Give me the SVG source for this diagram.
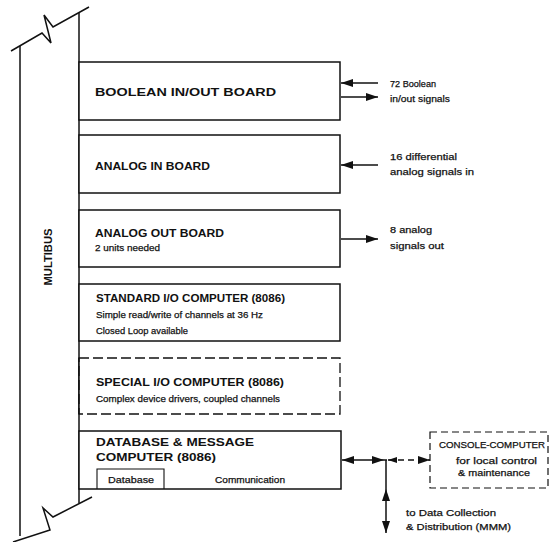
<svg xmlns="http://www.w3.org/2000/svg" width="554" height="542" viewBox="0 0 554 542">
<style>
.ln{fill:none;stroke:#111;stroke-width:1.5}
.box{fill:#fff;stroke:#111;stroke-width:1.5}
.dash{fill:#fff;stroke:#111;stroke-width:1.3;stroke-dasharray:10 4}
.dash2{fill:#fff;stroke:#111;stroke-width:1.2;stroke-dasharray:7 4}
.t{font-family:"Liberation Sans",Arial,sans-serif;font-weight:bold;font-size:11.5px;fill:#111}
.s{font-family:"Liberation Sans",Arial,sans-serif;font-size:9.5px;fill:#111;stroke:#111;stroke-width:0.25}
.ah{fill:#111;stroke:none}
</style>
<defs>
<marker id="arr" viewBox="0 0 12 8" refX="12" refY="4" markerWidth="12" markerHeight="8" markerUnits="userSpaceOnUse" orient="auto-start-reverse"><path d="M0,0 L12,4 L0,8 Z" class="ah"/></marker>
<marker id="arrs" viewBox="0 0 9 6" refX="9" refY="3" markerWidth="9" markerHeight="6" markerUnits="userSpaceOnUse" orient="auto-start-reverse"><path d="M0,0 L9,3 L0,6 Z" class="ah"/></marker>
</defs>

<g id="multibus">
<polyline class="ln" points="11,51 42,33 51,43 44,15 53,27 89,7"/>
<polyline class="ln" points="92,497 53,517 43,508 50,530 13,542"/>
<line class="ln" x1="20" y1="46" x2="20" y2="536"/>
<line class="ln" x1="79" y1="13" x2="79" y2="503"/>
<text class="t" transform="translate(52,257) rotate(-90)" text-anchor="middle" textLength="57" lengthAdjust="spacingAndGlyphs">MULTIBUS</text>
</g>

<g id="boolean">
<rect class="box" x="79" y="62" width="261" height="58"/>
<text class="t" x="95" y="96" textLength="181" lengthAdjust="spacingAndGlyphs">BOOLEAN IN/OUT BOARD</text>
</g>

<g id="analog-in">
<rect class="box" x="79" y="135" width="261" height="58"/>
<text class="t" x="95" y="170" textLength="115" lengthAdjust="spacingAndGlyphs">ANALOG IN BOARD</text>
</g>

<g id="analog-out">
<rect class="box" x="79" y="210" width="261" height="57"/>
<text class="t" x="95" y="237" textLength="129" lengthAdjust="spacingAndGlyphs">ANALOG OUT BOARD</text>
<text class="s" x="95" y="251" textLength="65" lengthAdjust="spacingAndGlyphs">2 units needed</text>
</g>

<g id="standard-io">
<rect class="box" x="79" y="284" width="261" height="57"/>
<text class="t" x="96" y="302" textLength="189" lengthAdjust="spacingAndGlyphs">STANDARD I/O COMPUTER (8086)</text>
<text class="s" x="96" y="318" textLength="167" lengthAdjust="spacingAndGlyphs">Simple read/write of channels at 36 Hz</text>
<text class="s" x="96" y="334" textLength="92" lengthAdjust="spacingAndGlyphs">Closed Loop available</text>
</g>

<g id="special-io">
<rect class="dash" x="79" y="358" width="261" height="56"/>
<line class="ln" x1="79" y1="358" x2="79" y2="414"/>
<text class="t" x="96" y="386" textLength="188" lengthAdjust="spacingAndGlyphs">SPECIAL I/O COMPUTER (8086)</text>
<text class="s" x="96" y="402" textLength="184" lengthAdjust="spacingAndGlyphs">Complex device drivers, coupled channels</text>
</g>

<g id="database-message">
<rect class="box" x="79" y="431" width="262" height="58"/>
<text class="t" x="96" y="446" textLength="158" lengthAdjust="spacingAndGlyphs">DATABASE &amp; MESSAGE</text>
<text class="t" x="96" y="461" textLength="120" lengthAdjust="spacingAndGlyphs">COMPUTER (8086)</text>
<polyline class="ln" style="stroke-width:1.1" points="97,489 97,469 164,469 164,489"/>
<text class="s" x="108" y="483" textLength="46" lengthAdjust="spacingAndGlyphs">Database</text>
<text class="s" x="215" y="483" textLength="70" lengthAdjust="spacingAndGlyphs">Communication</text>
</g>

<g id="console-computer">
<rect class="dash2" x="430" y="432" width="118" height="56"/>
<text class="s" x="439" y="448" textLength="106" lengthAdjust="spacingAndGlyphs">CONSOLE-COMPUTER</text>
<text class="s" x="456" y="464" textLength="81" lengthAdjust="spacingAndGlyphs">for local control</text>
<text class="s" x="458" y="476" textLength="72" lengthAdjust="spacingAndGlyphs">&amp; maintenance</text>
</g>

<g id="signals">
<text class="s" x="390" y="87" textLength="46" lengthAdjust="spacingAndGlyphs">72 Boolean</text>
<text class="s" x="390" y="102" textLength="60" lengthAdjust="spacingAndGlyphs">in/out signals</text>
<text class="s" x="390" y="160" textLength="67" lengthAdjust="spacingAndGlyphs">16 differential</text>
<text class="s" x="390" y="175" textLength="84" lengthAdjust="spacingAndGlyphs">analog signals in</text>
<text class="s" x="390" y="233" textLength="42" lengthAdjust="spacingAndGlyphs">8 analog</text>
<text class="s" x="390" y="249" textLength="54" lengthAdjust="spacingAndGlyphs">signals out</text>
<text class="s" x="406" y="516" textLength="90" lengthAdjust="spacingAndGlyphs">to Data Collection</text>
<text class="s" x="406" y="530" textLength="105" lengthAdjust="spacingAndGlyphs">&amp; Distribution (MMM)</text>
</g>

<g id="connectors">
<line class="ln" x1="378" y1="83" x2="341" y2="83" marker-end="url(#arr)"/>
<line class="ln" x1="341" y1="97" x2="378" y2="97" marker-end="url(#arr)"/>
<line class="ln" x1="378" y1="165" x2="341" y2="165" marker-end="url(#arr)"/>
<line class="ln" x1="341" y1="239" x2="378" y2="239" marker-end="url(#arr)"/>
<line class="ln" x1="342" y1="460" x2="384" y2="460" marker-start="url(#arr)" marker-end="url(#arr)"/>
<line class="ln" x1="384" y1="460" x2="387" y2="460"/>
<line class="ln" style="stroke-dasharray:6 4" x1="388" y1="460" x2="430" y2="460" marker-start="url(#arrs)" marker-end="url(#arr)"/>
<line class="ln" x1="386" y1="460" x2="386" y2="533" marker-end="url(#arr)"/>
<path class="ah" d="M386,489 L382,501 L390,501 Z"/>
</g>
</svg>
